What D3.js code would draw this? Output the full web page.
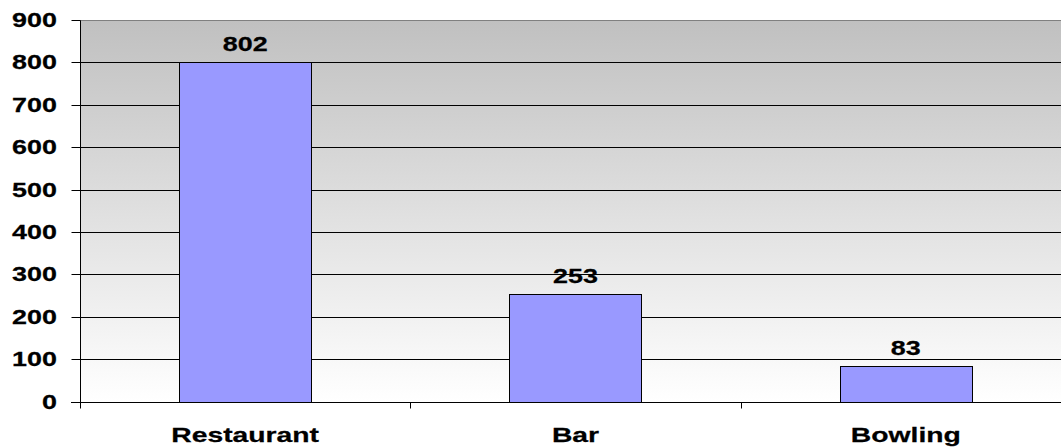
<!DOCTYPE html>
<html>
<head>
<meta charset="utf-8">
<script src="https://cdn.jsdelivr.net/npm/d3@7/dist/d3.min.js"></script>
<style>
  html, body { margin: 0; padding: 0; background: #ffffff; }
  svg { display: block; }
  text { font-family: "Liberation Sans", Arial, sans-serif; font-weight: bold; fill: #000; stroke: #000; stroke-width: 0.25px; }
</style>
</head>
<body>
<svg id="chart" width="1061" height="448"></svg>
<script>
// Visit counts per venue type
const categories = ["Restaurant", "Bar", "Bowling"];
const values = [802, 253, 83];
const yTicks = [0, 100, 200, 300, 400, 500, 600, 700, 800, 900];

const W = 1061, H = 448;
const plot = { left: 80, top: 20, right: 1071, bottom: 401.7 };
const stretch = 1.38; // wide lettering used throughout the chart

const svg = d3.select("#chart");

const x = d3.scaleBand()
  .domain(categories)
  .range([plot.left, plot.right])
  .padding(0);

const y = d3.scaleLinear()
  .domain([0, 900])
  .range([plot.bottom, plot.top]);

const snap = v => Math.round(v) + 0.5;

// Plot background: grey fading to white
const defs = svg.append("defs");
const grad = defs.append("linearGradient")
  .attr("id", "bg").attr("x1", 0).attr("y1", 0).attr("x2", 0).attr("y2", 1);
grad.append("stop").attr("offset", "0%").attr("stop-color", "#c0c0c0");
grad.append("stop").attr("offset", "100%").attr("stop-color", "#ffffff");

svg.append("rect")
  .attr("x", plot.left).attr("y", y(900))
  .attr("width", W - plot.left).attr("height", y(0) - y(900))
  .attr("fill", "url(#bg)");

// Horizontal gridlines
svg.append("g").selectAll("line")
  .data(yTicks.filter(d => d > 0))
  .join("line")
  .attr("x1", plot.left).attr("x2", W)
  .attr("y1", d => snap(y(d))).attr("y2", d => snap(y(d)))
  .attr("stroke", d => d === 900 ? "#808080" : "#000")
  .attr("stroke-width", 1);

// Bars
const barW = x.bandwidth() * 0.4;
svg.append("g").selectAll("rect")
  .data(categories.map((c, i) => ({ c, v: values[i] })))
  .join("rect")
  .attr("x", d => Math.round(x(d.c) + (x.bandwidth() - barW) / 2) + 0.5)
  .attr("y", d => snap(y(d.v)))
  .attr("width", Math.round(barW))
  .attr("height", d => snap(y(0)) - snap(y(d.v)))
  .attr("fill", "#9999ff")
  .attr("stroke", "#000")
  .attr("stroke-width", 1);

// Value labels above bars
svg.append("g").selectAll("text")
  .data(categories.map((c, i) => ({ c, v: values[i] })))
  .join("text")
  .attr("transform", d => `translate(${x(d.c) + x.bandwidth() / 2},${y(d.v) - 11}) scale(${stretch},1)`)
  .attr("text-anchor", "middle")
  .attr("font-size", 19.5)
  .text(d => d.v);

// Y axis with outward ticks
const yAxis = svg.append("g")
  .attr("transform", `translate(${plot.left + 0.5},0)`)
  .call(d3.axisLeft(y).tickValues(yTicks).tickSize(9).tickPadding(0).tickFormat(""));
yAxis.select(".domain").attr("d", `M0,${snap(y(900))}V${snap(y(0)) + 6}`).attr("stroke", "#000");
yAxis.selectAll(".tick").attr("transform", d => `translate(0,${snap(y(d))})`);
yAxis.selectAll(".tick line").attr("stroke", "#000");

svg.append("g").selectAll("text")
  .data(yTicks)
  .join("text")
  .attr("transform", d => `translate(57,${y(d) + 7}) scale(${stretch},1)`)
  .attr("text-anchor", "end")
  .attr("font-size", 19.5)
  .text(d => d);

// Category axis: baseline, boundary ticks and labels
svg.append("line")
  .attr("x1", plot.left - 9).attr("x2", W)
  .attr("y1", snap(y(0))).attr("y2", snap(y(0)))
  .attr("stroke", "#000");

svg.append("g").selectAll("line")
  .data(categories.slice(1))
  .join("line")
  .attr("x1", d => Math.round(x(d)) + 0.5).attr("x2", d => Math.round(x(d)) + 0.5)
  .attr("y1", snap(y(0))).attr("y2", snap(y(0)) + 6)
  .attr("stroke", "#000");

svg.append("g").selectAll("text")
  .data(categories)
  .join("text")
  .attr("transform", d => `translate(${x(d) + x.bandwidth() / 2},442) scale(${stretch},1)`)
  .attr("text-anchor", "middle")
  .attr("font-size", 20.5)
  .text(d => d);
</script>
</body>
</html>
